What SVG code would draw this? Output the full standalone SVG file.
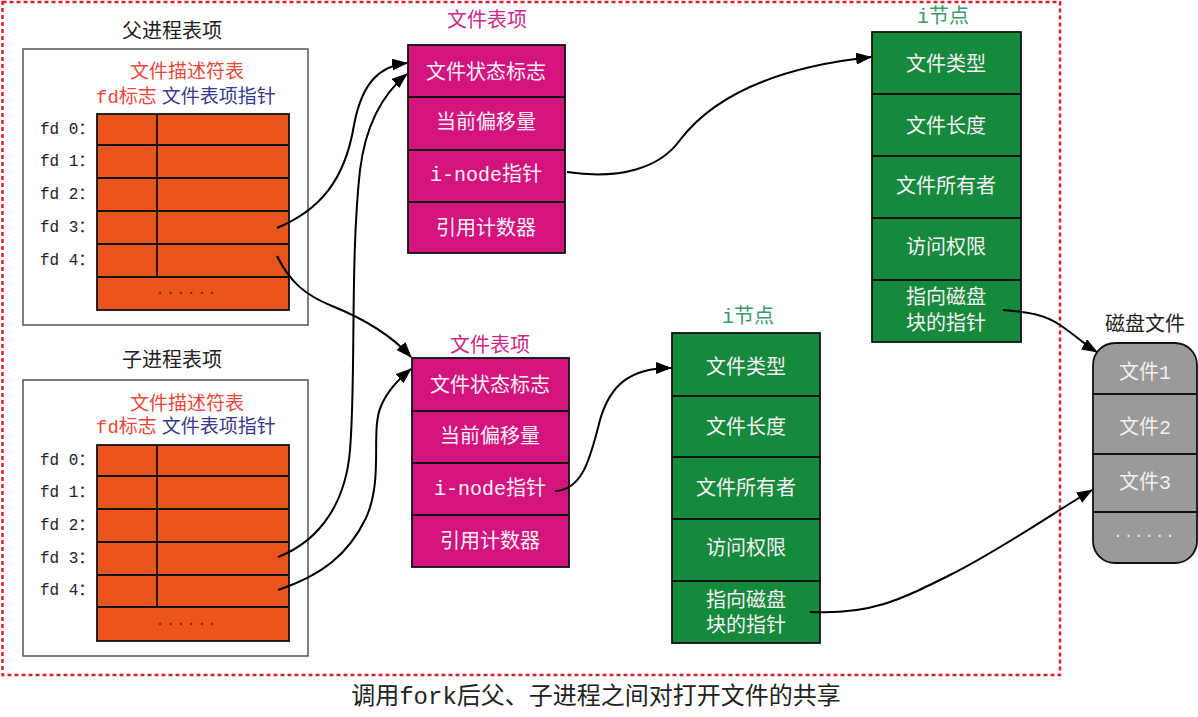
<svg xmlns="http://www.w3.org/2000/svg" width="1198" height="717" viewBox="0 0 1198 717">
<defs>
<style>
text{font-family:"Liberation Mono","Noto Sans CJK SC",monospace;}
.t{font-size:20px;fill:#222;text-anchor:middle;dominant-baseline:central;}
.cell{stroke:#111;stroke-width:1.8;}
.org{fill:#e9551a;}
.mag{fill:#d4147e;}
.grn{fill:#15893c;}
.wt{font-size:20px;fill:#f6f0f4;text-anchor:middle;dominant-baseline:central;}
.fd{font-size:16px;fill:#222;dominant-baseline:central;}
.red{fill:#e8483c;}
.blue{fill:#3a3a8e;}
.panel{fill:#fff;stroke:#555;stroke-width:1.5;}
.conn{fill:none;stroke:#000;stroke-width:2;marker-end:url(#ah);}
</style>
<marker id="ah" viewBox="0 0 16 12" refX="15" refY="6" markerWidth="16" markerHeight="12" markerUnits="userSpaceOnUse" orient="auto">
<path d="M0,0 L16,6 L0,12 Z" fill="#000"/>
</marker>
</defs>
<rect x="0" y="0" width="1198" height="717" fill="#fff"/>
<rect id="frame" x="2.5" y="2" width="1057.5" height="673" fill="none" stroke="#dd1f2e" stroke-width="2.5" stroke-dasharray="4,3"/>

<g id="parent">
<text class="t" x="172" y="32">父进程表项</text>
<rect class="panel" x="23" y="49" width="285" height="276"/>
<text class="t red" x="187" y="73" style="font-size:19px">文件描述符表</text>
<text x="96" y="98" style="font-size:19px;dominant-baseline:central"><tspan class="red">fd标志</tspan><tspan class="blue" dx="5">文件表项指针</tspan></text>
<rect class="org cell" x="97" y="114" width="192" height="196"/>
<path class="cell" d="M97,145H289M97,178H289M97,211H289M97,244H289M97,277H289M157,114V277" fill="none"/>
<text class="t" x="187" y="290" style="font-size:14px;fill:#7a1f00;letter-spacing:2px">......</text>
<text class="fd" x="40" y="130">fd 0：</text>
<text class="fd" x="40" y="162">fd 1：</text>
<text class="fd" x="40" y="195">fd 2：</text>
<text class="fd" x="40" y="228">fd 3：</text>
<text class="fd" x="40" y="261">fd 4：</text>
</g>

<g id="child">
<text class="t" x="172" y="361">子进程表项</text>
<rect class="panel" x="23" y="380" width="285" height="276"/>
<text class="t red" x="187" y="405" style="font-size:19px">文件描述符表</text>
<text x="96" y="428" style="font-size:19px;dominant-baseline:central"><tspan class="red">fd标志</tspan><tspan class="blue" dx="5">文件表项指针</tspan></text>
<rect class="org cell" x="97" y="445" width="192" height="196"/>
<path class="cell" d="M97,476H289M97,509H289M97,542H289M97,575H289M97,607H289M157,445V607" fill="none"/>
<text class="t" x="187" y="621" style="font-size:14px;fill:#7a1f00;letter-spacing:2px">......</text>
<text class="fd" x="40" y="461">fd 0：</text>
<text class="fd" x="40" y="493">fd 1：</text>
<text class="fd" x="40" y="526">fd 2：</text>
<text class="fd" x="40" y="559">fd 3：</text>
<text class="fd" x="40" y="591">fd 4：</text>
</g>

<g id="filetable1">
<text class="t" x="487" y="21" style="fill:#cc2a8a">文件表项</text>
<rect class="mag cell" x="408" y="45" width="157" height="208"/>
<path class="cell" d="M408,97H565M408,150H565M408,202H565" fill="none"/>
<text class="wt" x="486" y="73">文件状态标志</text>
<text class="wt" x="486" y="123">当前偏移量</text>
<text class="wt" x="486" y="175">i-node指针</text>
<text class="wt" x="486" y="229">引用计数器</text>
</g>

<g id="filetable2">
<text class="t" x="490" y="346" style="fill:#cc2a8a">文件表项</text>
<rect class="mag cell" x="412" y="358" width="157" height="209"/>
<path class="cell" d="M412,411H569M412,463H569M412,515H569" fill="none"/>
<text class="wt" x="490" y="386">文件状态标志</text>
<text class="wt" x="490" y="437">当前偏移量</text>
<text class="wt" x="490" y="489">i-node指针</text>
<text class="wt" x="490" y="542">引用计数器</text>
</g>

<g id="inode1">
<text class="t" x="943" y="17" style="fill:#3d9a6c">i节点</text>
<rect class="grn cell" x="872" y="32" width="149" height="310"/>
<path class="cell" d="M872,94H1021M872,156H1021M872,218H1021M872,280H1021" fill="none"/>
<text class="wt" x="946" y="65">文件类型</text>
<text class="wt" x="946" y="127">文件长度</text>
<text class="wt" x="946" y="187">文件所有者</text>
<text class="wt" x="946" y="248">访问权限</text>
<text class="wt" x="946" y="298">指向磁盘</text>
<text class="wt" x="946" y="324">块的指针</text>
</g>

<g id="inode2">
<text class="t" x="748" y="317" style="fill:#3d9a6c">i节点</text>
<rect class="grn cell" x="672" y="333" width="148" height="310"/>
<path class="cell" d="M672,396H820M672,457H820M672,519H820M672,581H820" fill="none"/>
<text class="wt" x="746" y="368">文件类型</text>
<text class="wt" x="746" y="428">文件长度</text>
<text class="wt" x="746" y="489">文件所有者</text>
<text class="wt" x="746" y="549">访问权限</text>
<text class="wt" x="746" y="601">指向磁盘</text>
<text class="wt" x="746" y="626">块的指针</text>
</g>

<g id="disk">
<text class="t" x="1145" y="325">磁盘文件</text>
<rect x="1093" y="343" width="104" height="220" rx="22" ry="22" fill="#9a9a9a" stroke="#111" stroke-width="1.8"/>
<path class="cell" d="M1093,394H1197M1093,454H1197M1093,512H1197" fill="none"/>
<text class="wt" x="1145" y="373" style="fill:#f0f0f0">文件1</text>
<text class="wt" x="1145" y="428" style="fill:#f0f0f0">文件2</text>
<text class="wt" x="1145" y="483" style="fill:#f0f0f0">文件3</text>
<text class="wt" x="1145" y="533" style="font-size:14px;fill:#f0f0f0;letter-spacing:2px">......</text>
</g>

<g id="connectors">
<path class="conn" d="M277,228 C320,210 345,180 354,125 C362,82 380,66 407,63"/>
<path class="conn" d="M277,256 C290,282 305,295 332,306 C362,318 392,336 411,357"/>
<path class="conn" d="M278,557 C322,540 346,500 350,450 C356,380 350,260 360,170 C366,122 385,92 407,74"/>
<path class="conn" d="M278,590 C322,575 348,555 366,518 C384,478 370,432 381,406 C388,390 398,380 411,369"/>
<path class="conn" d="M567,172 C620,180 660,168 680,140 C712,98 770,68 871,57"/>
<path class="conn" d="M555,491 C582,490 590,460 600,420 C610,385 630,368 671,368"/>
<path class="conn" d="M1003,310 C1030,312 1045,315 1060,325 C1075,335 1085,345 1097,352"/>
<path class="conn" d="M810,612 C870,615 900,600 950,575 C1000,550 1050,515 1092,490"/>
</g>

<text class="t" x="596" y="697" style="font-size:24px">调用fork后父、子进程之间对打开文件的共享</text>
</svg>
